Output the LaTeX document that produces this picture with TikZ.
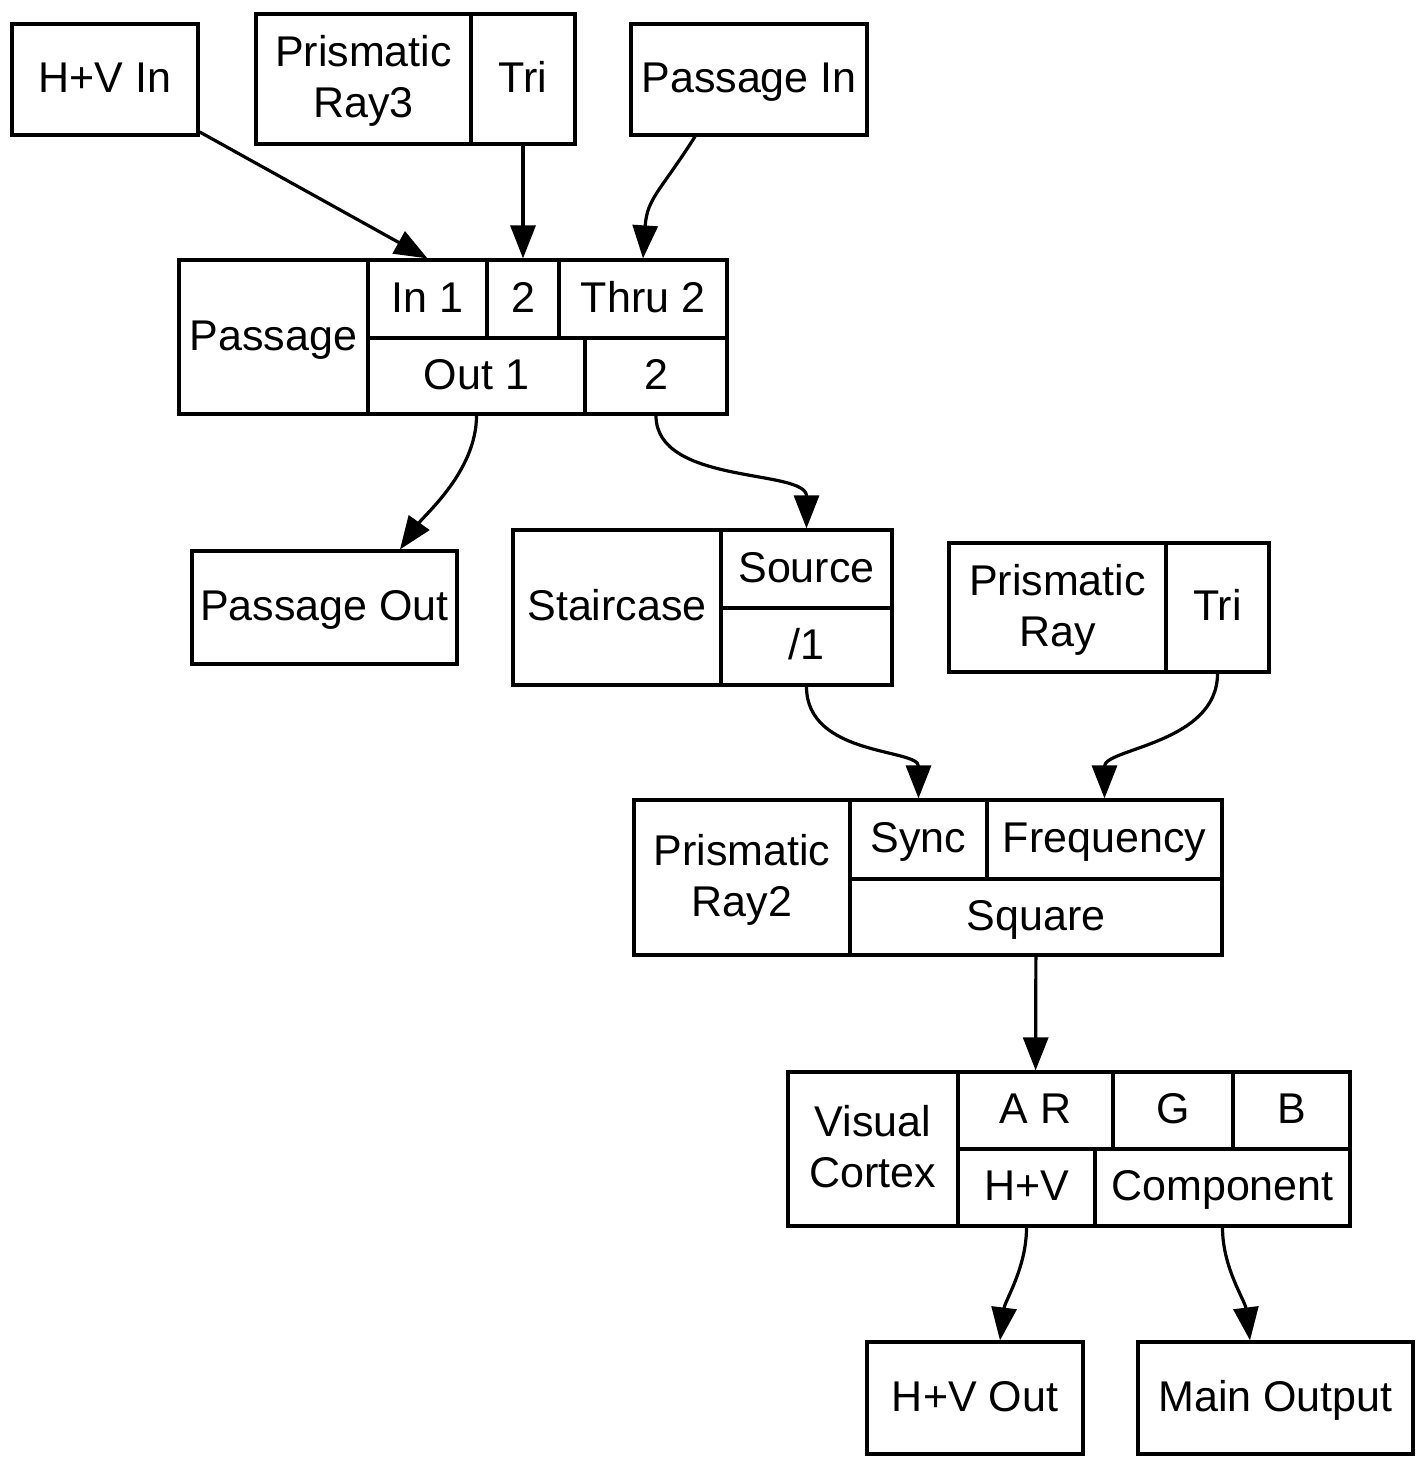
\documentclass[tikz,border=0pt]{standalone}
\usepackage{fontspec}
\setmainfont{Liberation Sans}
\usepackage{tikz}
\usetikzlibrary{arrows.meta,calc}
% record field: [style], name, x1, y1, x2, y2, text (pixel grid)
\newcommand{\fld}[7][]{\node[fld, #1, minimum width={(#5-#3)*0.5pt}, minimum height={(#6-#4)*0.5pt}] (#2) at ({(#3+#5)/2},{(#4+#6)/2}) {#7};}

\begin{document}
\begin{tikzpicture}[
  x=0.5pt, y=-0.5pt,
  fld/.style={rectangle, draw=black, line width=1.6pt, inner sep=0pt, align=center,
              font=\fontsize{21.5}{25.5}\selectfont, text height=15.4pt, text depth=2pt},
  two/.style={text height=40.9pt},
  arr/.style={-{Triangle[length=16.5pt,width=12.5pt]}, line width=1.6pt, draw=black}]
\useasboundingbox (0,0) rectangle (1425,1468);
% inputs
\fld{hvin}{12}{24}{198}{135}{H+V In}
\fld[two]{pray3}{256}{14}{471}{144}{Prismatic\\Ray3}
\fld{tri3}{471}{14}{575}{144}{Tri}
\fld{pin}{631}{24}{867}{135}{Passage In}
% passage
\fld{pass}{179}{260}{368}{414}{Passage}
\fld{in1}{368}{260}{487}{338}{In 1}
\fld{in2}{487}{260}{559}{338}{2}
\fld{thru2}{559}{260}{727}{338}{Thru 2}
\fld{out1}{368}{338}{585}{414}{Out 1}
\fld{out2}{585}{338}{727}{414}{2}
\fld{pout}{192}{551}{457}{664}{Passage Out}
% staircase
\fld{stair}{513}{530}{721}{685}{Staircase}
\fld{src}{721}{530}{892}{608}{Source}
\fld{div1}{721}{608}{892}{685}{/1}
\fld[two]{pray}{949}{543}{1166}{672}{Prismatic\\Ray}
\fld{tri}{1166}{543}{1269}{672}{Tri}
% prismatic ray 2
\fld[two]{pray2}{634}{800}{850}{955}{Prismatic\\Ray2}
\fld{sync}{850}{800}{987}{879}{Sync}
\fld{freq}{987}{800}{1222}{879}{Frequency}
\fld{sq}{850}{879}{1222}{955}{Square}
% visual cortex
\fld[two]{vc}{788}{1072}{958}{1226}{Visual\\Cortex}
\fld{ar}{958}{1072}{1113}{1149}{A R}
\fld{g}{1113}{1072}{1233}{1149}{G}
\fld{b}{1233}{1072}{1350}{1149}{B}
\fld{hv}{958}{1149}{1095}{1226}{H+V}
\fld{comp}{1095}{1149}{1350}{1226}{Component}
\fld{hvout}{867}{1342}{1083}{1454}{H+V Out}
\fld{mout}{1138}{1342}{1413}{1454}{Main Output}
% connectors
\draw[arr] (hvin) -- (in1.north);
\draw[arr] (tri3) -- (in2);
\draw[arr] ([xshift=-27pt]pin.south) .. controls +(-35,55) and +(4,-60) .. (thru2.north);
\draw[arr] (out1.south) .. controls +(0,55) and +(25,-35) .. ([xshift=37.75pt]pout.north);
\draw[arr] (out2.south) .. controls +(0,70) and +(0,-60) .. (src.north);
\draw[arr] (div1.south) .. controls +(0,70) and +(0,-50) .. (sync.north);
\draw[arr] (tri.south) .. controls +(0,70) and +(0,-50) .. (freq.north);
\draw[arr] (sq) -- (ar);
\draw[arr] (hv.south) .. controls +(0,40) and +(5,-40) .. ([xshift=12.5pt]hvout.north);
\draw[arr] (comp.south) .. controls +(0,40) and +(-5,-40) .. ([xshift=-12.75pt]mout.north);
\end{tikzpicture}
\end{document}
